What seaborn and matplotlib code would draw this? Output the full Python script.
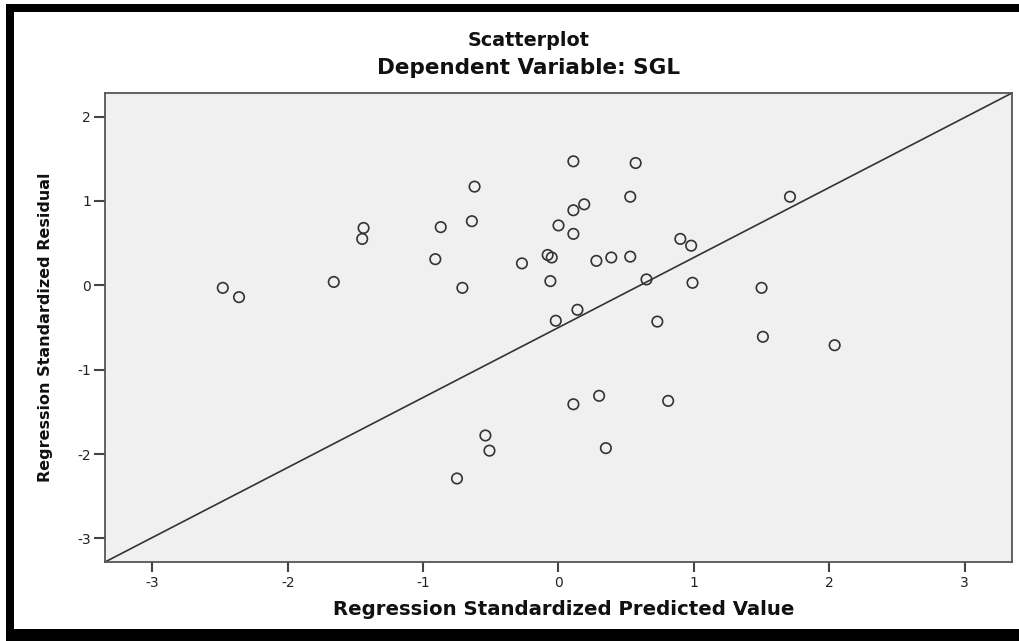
import matplotlib
matplotlib.use("Agg")
import matplotlib.pyplot as plt
from matplotlib.patches import Rectangle
import seaborn as sns
import pandas as pd

# Standardized predicted values and residuals of the regression on SGL
predicted = [-2.48, -2.36, -1.66, -1.45, -1.44, -0.91, -0.87, -0.71, -0.64, -0.62,
             -0.27, -0.08, -0.05, -0.06, 0.00, -0.02, 0.11, 0.11, 0.19, 0.11,
             0.14, 0.28, 0.39, 0.53, 0.53, 0.57, 0.65, 0.90, 0.98, 0.99,
             0.73, 1.50, 1.51, 1.71, 2.04, 0.11, 0.30, 0.81, -0.54, -0.51,
             0.35, -0.75]
residual = [-0.03, -0.14, 0.04, 0.55, 0.68, 0.31, 0.69, -0.03, 0.76, 1.17,
            0.26, 0.36, 0.33, 0.05, 0.71, -0.42, 1.47, 0.89, 0.96, 0.61,
            -0.29, 0.29, 0.33, 0.34, 1.05, 1.45, 0.07, 0.55, 0.47, 0.03,
            -0.43, -0.03, -0.61, 1.05, -0.71, -1.41, -1.31, -1.37, -1.78, -1.96,
            -1.93, -2.29]

x_ticks = [-3, -2, -1, 0, 1, 2, 3]
y_ticks = [-3, -2, -1, 0, 1, 2]
x_limits = (-3.35, 3.35)
y_limits = (-3.28, 2.28)

title_main = "Scatterplot"
title_sub = "Dependent Variable: SGL"
x_label = "Regression Standardized Predicted Value"
y_label = "Regression Standardized Residual"

df = pd.DataFrame({"pred": predicted, "resid": residual})

sns.set_theme(style="white")
plt.rcParams["font.family"] = ["DejaVu Sans"]

fig = plt.figure(figsize=(10.2, 6.41), dpi=100)
fig.patch.set_facecolor("white")
ax = fig.add_axes([105 / 1020, 1 - 562 / 641, (1012 - 105) / 1020, (562 - 93) / 641])
ax.set_facecolor("#f0f0f0")

sns.scatterplot(data=df, x="pred", y="resid", ax=ax, marker="o", s=57,
                facecolors="none", edgecolor="#333333", linewidth=1.2,
                zorder=3, legend=False)

ax.set_xlim(*x_limits)
ax.set_ylim(*y_limits)

# Diagonal reference line running corner to corner across the plot area
ax.plot(list(x_limits), list(y_limits), color="#333333", linewidth=1.2, zorder=2)

ax.set_xticks(x_ticks)
ax.set_yticks(y_ticks)
ax.set_xticklabels([str(t) for t in x_ticks])
ax.set_yticklabels([str(t) for t in y_ticks])
ax.tick_params(axis="x", direction="out", length=7, width=1.5, color="#444444",
               labelsize=10, labelcolor="#222222", pad=3, bottom=True)
ax.tick_params(axis="y", direction="out", length=8, width=1.5, color="#444444",
               labelsize=10, labelcolor="#222222", pad=2, left=True)

for side in ["left", "bottom", "top", "right"]:
    ax.spines[side].set_visible(True)
    ax.spines[side].set_color("#555555")
    ax.spines[side].set_linewidth(1.3)

ax.set_xlabel(x_label, fontsize=14.2, fontweight="bold", color="#111111")
ax.set_ylabel(y_label, fontsize=11.5, fontweight="bold", color="#111111")
ax.xaxis.set_label_coords((563.5 - 105) / (1012 - 105), -(600 - 562) / (562 - 93))
ax.yaxis.set_label_coords(-(105 - 53) / (1012 - 105), 0.5)

fig.text(529 / 1020, 1 - 40 / 641, title_main, ha="center", va="center",
         fontsize=13.8, fontweight="bold", color="#111111")
fig.text(529 / 1020, 1 - 68 / 641, title_sub, ha="center", va="center",
         fontsize=15.5, fontweight="bold", color="#111111")

# Black frame along the top, left and bottom edges
fig.add_artist(Rectangle((6 / 1020, 1 - 12 / 641), 1, 8 / 641, transform=fig.transFigure,
                         facecolor="black", edgecolor="none"))
fig.add_artist(Rectangle((6 / 1020, 0), 8 / 1020, 1 - 4 / 641, transform=fig.transFigure,
                         facecolor="black", edgecolor="none"))
fig.add_artist(Rectangle((6 / 1020, 0), 1, 12 / 641, transform=fig.transFigure,
                         facecolor="black", edgecolor="none"))

fig.savefig("out.png", dpi=100, facecolor="white")
